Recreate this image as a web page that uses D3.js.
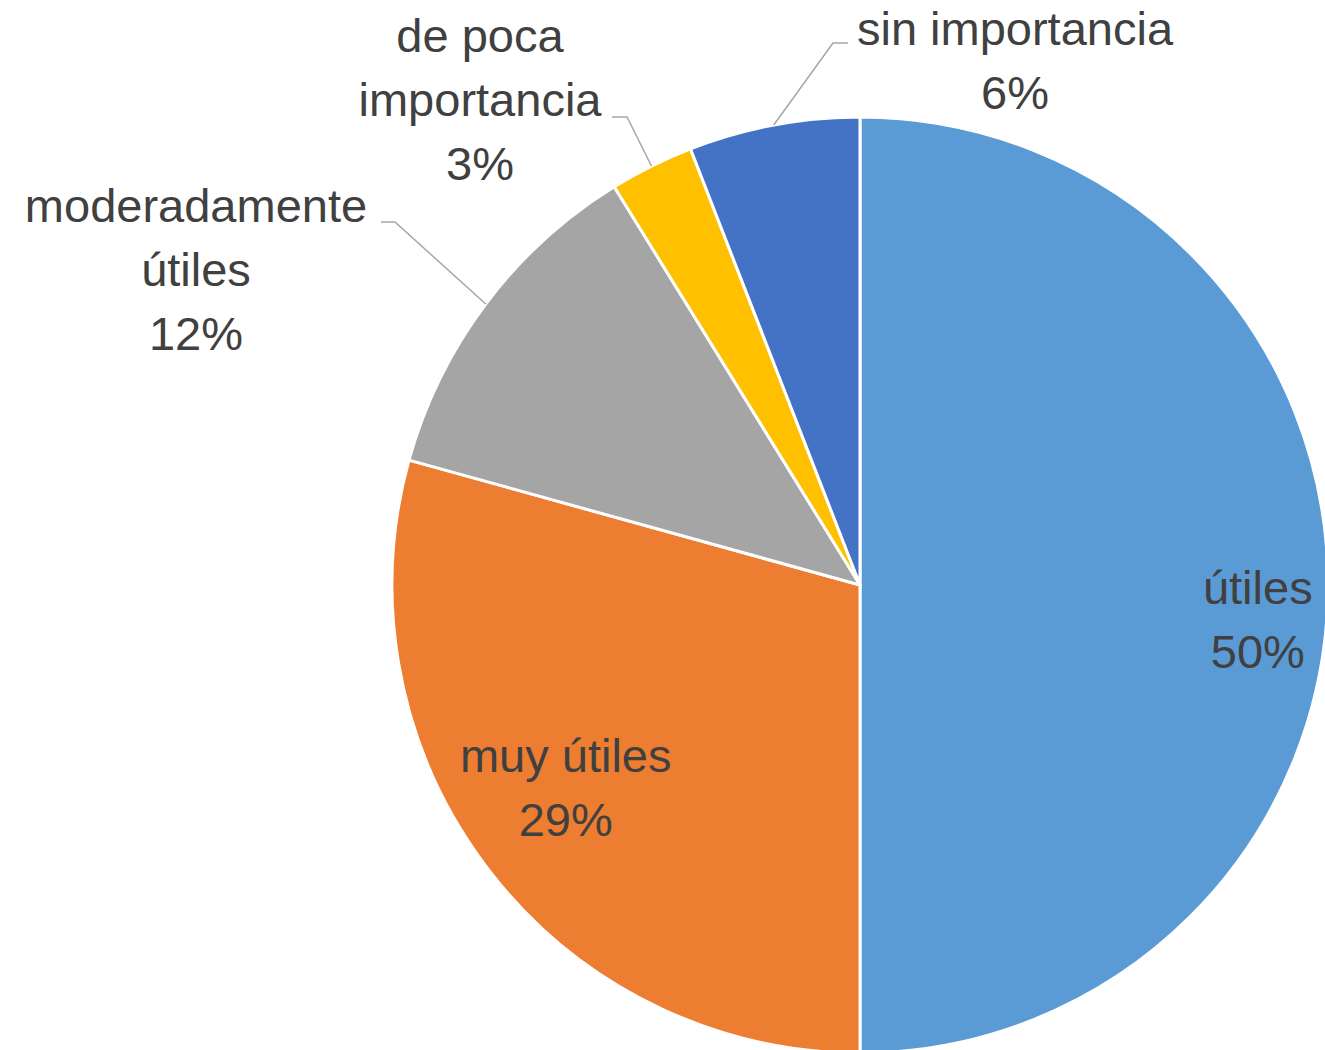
<!DOCTYPE html>
<html>
<head>
<meta charset="utf-8">
<script src="https://cdn.jsdelivr.net/npm/d3@7"></script>
<style>
  body { margin: 0; background: #fff; }
  svg text { font-family: "Liberation Sans", Arial, sans-serif; fill: #404040; }
</style>
</head>
<body>
<div id="chart"></div>
<script>
const categories = ["útiles", "muy útiles", "moderadamente útiles", "de poca importancia", "sin importancia"];
// shares (labels show them rounded)
const values = [50.0, 29.3, 11.9, 2.9, 5.9];
const colors = ["#5B9BD5", "#ED7D31", "#A5A5A5", "#FFC000", "#4472C4"];
// how each label wraps in the picture
const labelLines = [["útiles"], ["muy útiles"], ["moderadamente", "útiles"], ["de poca", "importancia"], ["sin importancia"]];

const width = 1325, height = 1050;
const cx = 860, cy = 585, radius = 468;
const fontSize = 47, lineHeight = 64;

// label placement: inside labels sit on a ring through the slice, outside ones get a leader line
const placement = [
    {inside: true, r: 0.85, dy: 34},
    {inside: true, r: 0.79, dy: -22},
    {inside: false, x: 196, y: 222, elbow: [395, 222], end: [381, 222]},
    {inside: false, x: 480, y: 52, elbow: [627, 117], end: [612, 117]},
    {inside: false, x: 1015, y: 45, elbow: [833, 43], end: [848, 43]}
];

const svg = d3.select("#chart")
    .append("svg")
    .attr("width", width)
    .attr("height", height);

const g = svg.append("g")
    .attr("transform", `translate(${cx},${cy})`);

const pie = d3.pie().sort(null).value(d => d.value);
const arc = d3.arc().innerRadius(0).outerRadius(radius);

const data = categories.map((c, i) => ({name: c, value: values[i], color: colors[i], lines: labelLines[i], place: placement[i]}));
const total = d3.sum(values);
const arcs = pie(data);

g.selectAll(".slice")
    .data(arcs)
    .enter()
    .append("path")
    .attr("class", "slice")
    .attr("d", arc)
    .attr("fill", d => d.data.color)
    .attr("stroke", "#fff")
    .attr("stroke-width", 3)
    .attr("stroke-linejoin", "round");

// leader lines for the outside labels
arcs.filter(d => !d.data.place.inside).forEach(d => {
    const a = (d.startAngle + d.endAngle) / 2;
    const p = d.data.place;
    const start = [cx + radius * Math.sin(a), cy - radius * Math.cos(a)];
    svg.append("polyline")
        .attr("points", [start, p.elbow, p.end].map(q => q.join(",")).join(" "))
        .attr("fill", "none")
        .attr("stroke", "#A6A6A6")
        .attr("stroke-width", 1.5);
});

// labels
arcs.forEach(d => {
    const p = d.data.place;
    let x, y0;
    const lines = d.data.lines.concat([Math.round(d.data.value / total * 100) + "%"]);
    if (p.inside) {
        const a = (d.startAngle + d.endAngle) / 2;
        x = cx + radius * p.r * Math.sin(a);
        const yc = cy - radius * p.r * Math.cos(a) + p.dy;
        y0 = yc - (lines.length - 1) * lineHeight / 2 + fontSize * 0.36;
    } else {
        x = p.x;
        y0 = p.y;
    }
    const t = svg.append("text")
        .attr("text-anchor", "middle")
        .style("font-size", fontSize + "px");
    lines.forEach((ln, i) => {
        t.append("tspan")
            .attr("x", x)
            .attr("y", y0 + i * lineHeight)
            .text(ln);
    });
});
</script>
</body>
</html>
